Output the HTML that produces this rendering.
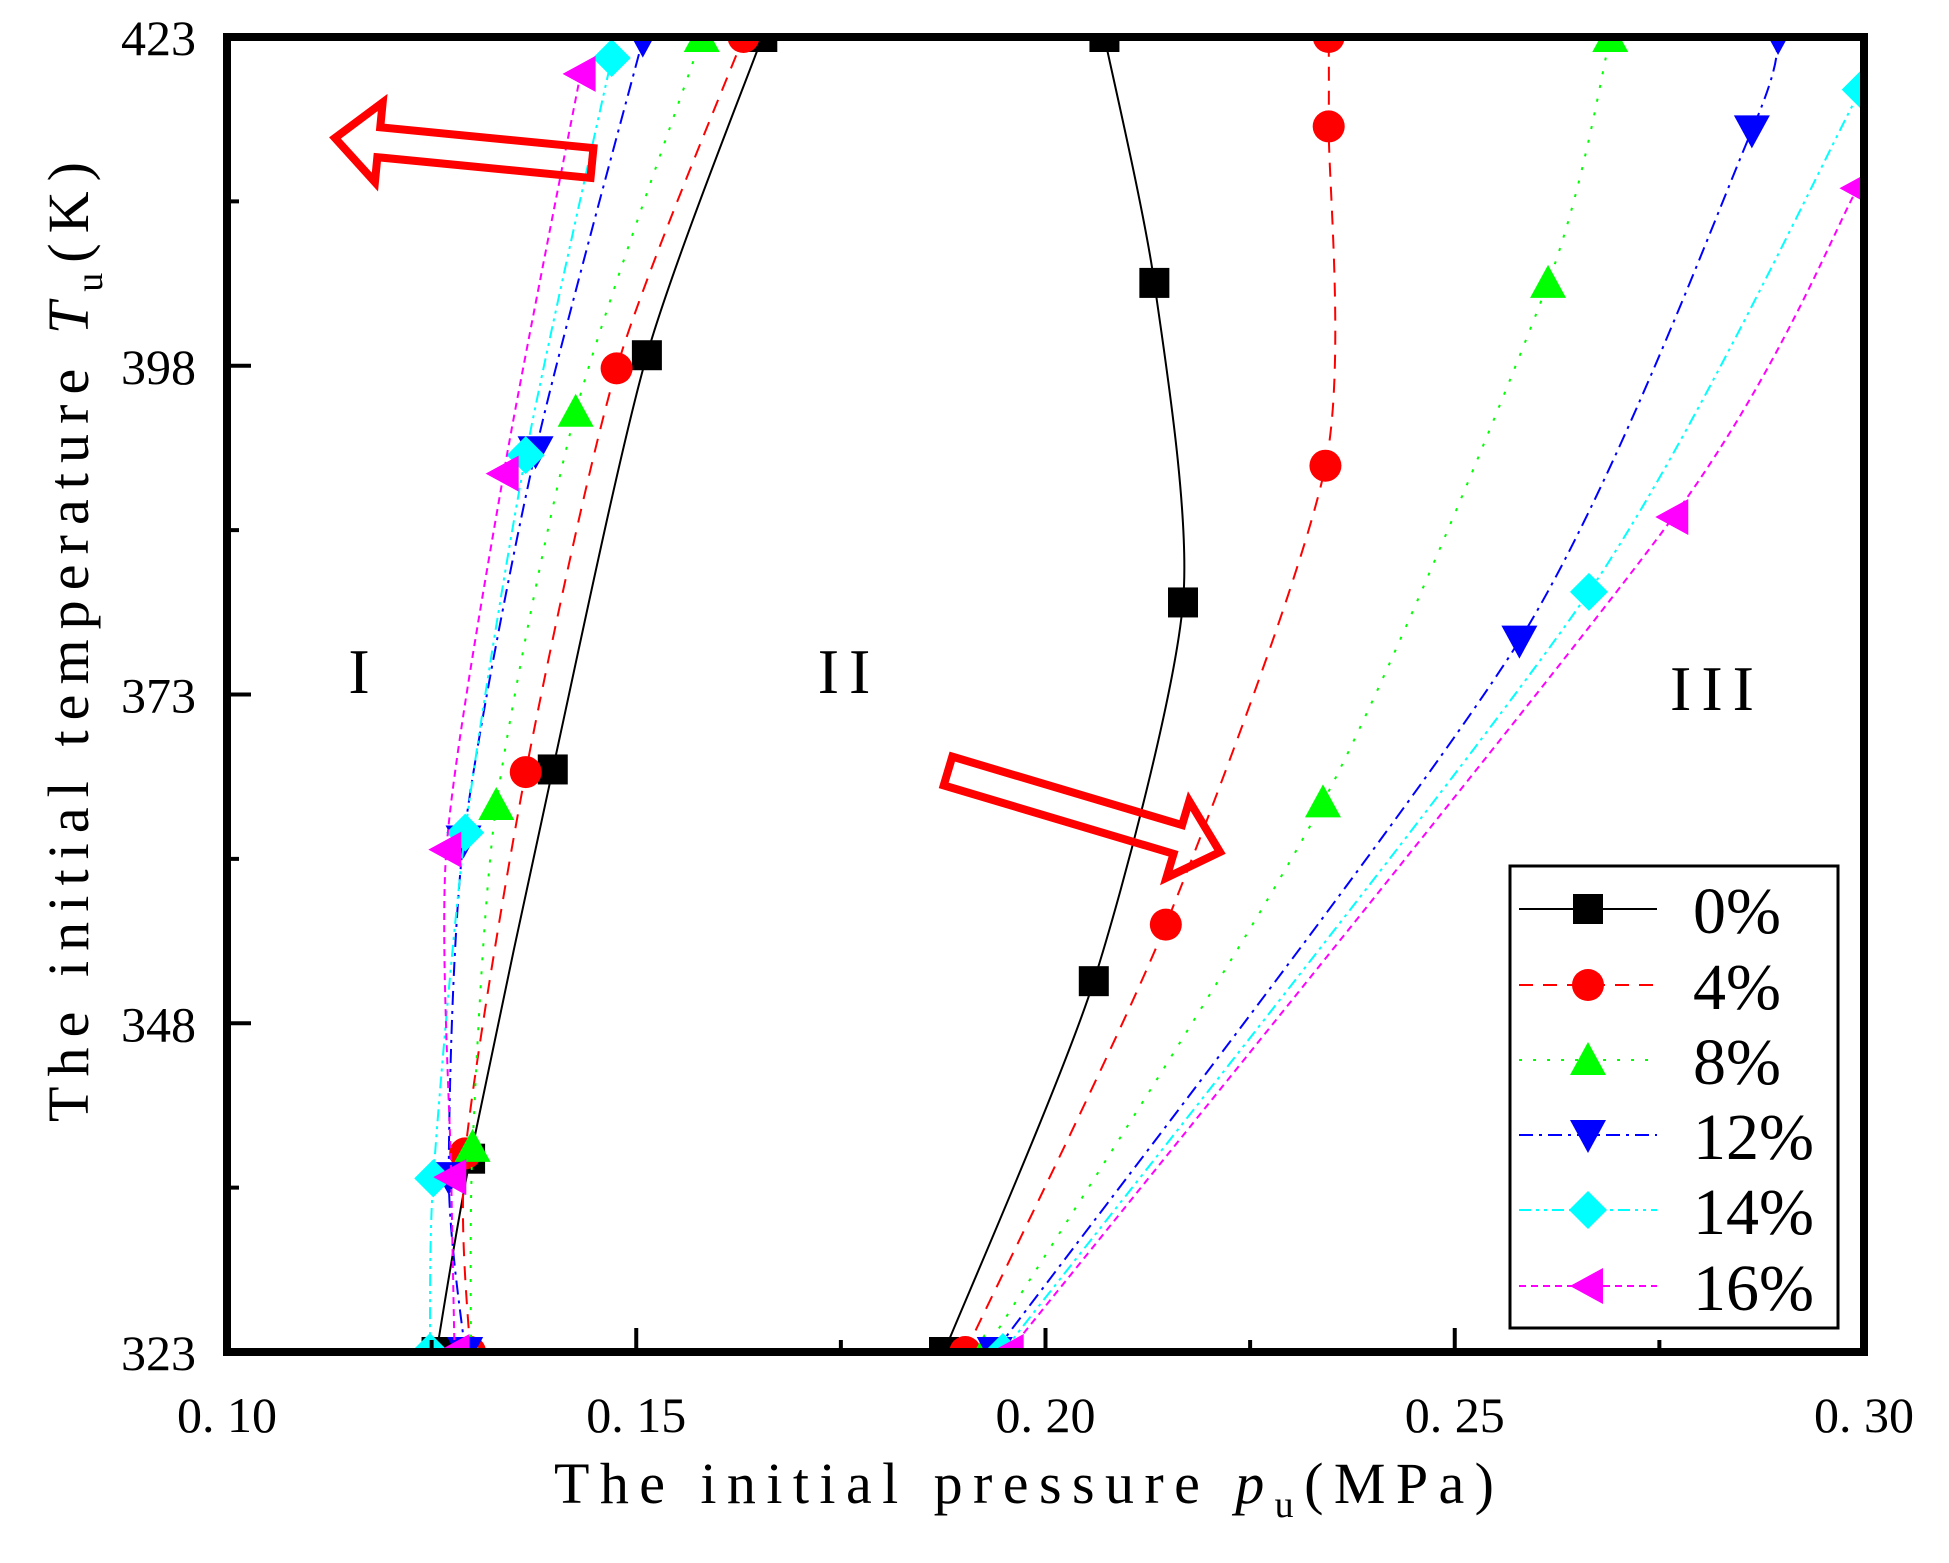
<!DOCTYPE html>
<html><head><meta charset="utf-8"><style>
html,body{margin:0;padding:0;background:#fff;}
svg{display:block;font-family:"Liberation Serif",serif;}
</style></head><body>
<svg id="chart" width="1949" height="1563" viewBox="0 0 1949 1563">
<g id="marks"></g>
<rect x="227" y="37" width="1637" height="1315" fill="none" stroke="#000" stroke-width="8"/>
<g id="axes"></g>
<text x="1024" y="1503" font-size="58" text-anchor="middle" textLength="940" lengthAdjust="spacing">The initial pressure <tspan font-style="italic">p</tspan><tspan font-size="38" dy="14">u</tspan><tspan dy="-14">(MPa)</tspan></text>
<text transform="translate(88,642) rotate(-90)" font-size="58" text-anchor="middle" textLength="960" lengthAdjust="spacing">The initial temperature <tspan font-style="italic">T</tspan><tspan font-size="38" dy="14">u</tspan><tspan dy="-14">(K)</tspan></text>
<text x="359" y="693" font-size="64" text-anchor="middle">I</text>
<text x="849" y="693" font-size="64" text-anchor="middle" letter-spacing="10">II</text>
<text x="1717" y="710" font-size="64" text-anchor="middle" letter-spacing="10">III</text>
<g id="arrows"></g>
<g id="legend">
<rect x="1510" y="866" width="328" height="462" fill="#fff" stroke="#000" stroke-width="3"/>
</g>
</svg>
<script>
const xTicks=[0.10,0.15,0.20,0.25,0.30];
const xTickLabels=["0. 10","0. 15","0. 20","0. 25","0. 30"];
const yTicks=[323,348,373,398,423];
const yTickLabels=["323","348","373","398","423"];
const seriesNames=["0%","4%","8%","12%","14%","16%"];
const leftP0=[0.1256,0.1297,0.1398,0.1513,0.1654];
const leftT0=[323,337.7,367.3,398.8,423];
const rightP0=[0.1876,0.2059,0.2168,0.2133,0.2072];
const rightT0=[323,351.2,380.0,404.3,423];
const leftP4=[0.1297,0.1291,0.1365,0.1476,0.1631];
const leftT4=[323,338.1,367.1,397.8,423];
const rightP4=[0.1902,0.2147,0.2342,0.2346,0.2346];
const rightT4=[323,355.5,390.4,416.2,423];
const leftP8=[0.1298,0.1300,0.1329,0.1426,0.1580];
const leftT8=[323,338.6,364.6,394.5,423];
const rightP8=[0.1925,0.2339,0.2614,0.2690];
const rightT8=[323,364.8,404.3,423];
const leftP12=[0.1291,0.1271,0.1289,0.1377,0.1508];
const leftT12=[323,336.3,361.9,391.5,422.8];
const rightP12=[0.1938,0.2579,0.2863,0.2895];
const rightT12=[323,377.1,415.9,423];
const leftP14=[0.1248,0.1252,0.1291,0.1365,0.1470];
const leftT14=[323,336.2,362.5,391.2,421.4];
const rightP14=[0.1948,0.2664,0.2996];
const rightT14=[323,380.8,419.0];
const leftP16=[0.1278,0.1274,0.1268,0.1338,0.1432];
const leftT16=[323,336.3,361.2,389.8,420.2];
const rightP16=[0.1955,0.2767,0.2992];
const rightT16=[323,386.5,411.5];

const NS="http://www.w3.org/2000/svg";
const X0=227,X1=1864,Y0=1352,Y1=37;
function sx(p){return X0+(p-0.10)/(0.30-0.10)*(X1-X0);}
function sy(t){return Y0-(t-323)/(423-323)*(Y0-Y1);}
function mk(tag,attrs,parent){const e=document.createElementNS(NS,tag);for(const k in attrs)e.setAttribute(k,attrs[k]);parent.appendChild(e);return e;}

const styles=[
 {color:"#000",dash:"",marker:"square"},
 {color:"#f00",dash:"14,10",marker:"circle"},
 {color:"#0f0",dash:"3,11",marker:"up"},
 {color:"#00f",dash:"14,6,3,6",marker:"down"},
 {color:"#0ff",dash:"12,5,3,5,3,5",marker:"diamond"},
 {color:"#f0f",dash:"7,5",marker:"left"}
];
const data=[[leftP0,leftT0,rightP0,rightT0],[leftP4,leftT4,rightP4,rightT4],[leftP8,leftT8,rightP8,rightT8],[leftP12,leftT12,rightP12,rightT12],[leftP14,leftT14,rightP14,rightT14],[leftP16,leftT16,rightP16,rightT16]];

function spline(pts){
 let d="M"+pts[0][0]+","+pts[0][1];
 const k=8;
 for(let i=0;i<pts.length-1;i++){
  const p0=pts[i-1]||pts[i],p1=pts[i],p2=pts[i+1],p3=pts[i+2]||pts[i+1];
  const c1=[p1[0]+(p2[0]-p0[0])/k,p1[1]+(p2[1]-p0[1])/k];
  const c2=[p2[0]-(p3[0]-p1[0])/k,p2[1]-(p3[1]-p1[1])/k];
  d+=" C"+c1[0]+","+c1[1]+" "+c2[0]+","+c2[1]+" "+p2[0]+","+p2[1];
 }
 return d;
}
function marker(type,x,y,color,parent){
 const r=15;let e;
 if(type==="square")e=mk("rect",{x:x-r,y:y-r,width:2*r,height:2*r,fill:color},parent);
 else if(type==="circle")e=mk("circle",{cx:x,cy:y,r:r+1,fill:color},parent);
 else if(type==="up")e=mk("polygon",{points:`${x},${y-r-3} ${x-r-3},${y+r} ${x+r+3},${y+r}`,fill:color},parent);
 else if(type==="down")e=mk("polygon",{points:`${x},${y+r+3} ${x-r-3},${y-r} ${x+r+3},${y-r}`,fill:color},parent);
 else if(type==="diamond")e=mk("polygon",{points:`${x},${y-r-4} ${x+r+4},${y} ${x},${y+r+4} ${x-r-4},${y}`,fill:color},parent);
 else e=mk("polygon",{points:`${x-r-3},${y} ${x+r},${y-r-3} ${x+r},${y+r+3}`,fill:color},parent);
 return e;
}
const marks=document.getElementById("marks");
mk("clipPath",{id:"clip"},marks);
mk("rect",{x:X0,y:Y1,width:X1-X0,height:Y0-Y1},document.getElementById("clip"));
data.forEach((s,i)=>{
 const st=styles[i];
 const g=mk("g",{"clip-path":"url(#clip)"},marks);
 
 
 for(let b=0;b<2;b++){
  const P=s[b*2],T=s[b*2+1];
  const pts=P.map((p,k)=>[sx(p),sy(T[k])]);
  const path=mk("path",{d:spline(pts),fill:"none",stroke:st.color,"stroke-width":2,"stroke-dasharray":st.dash},g);
  
  
  pts.forEach(pt=>{const m=marker(st.marker,pt[0],pt[1],st.color,g);
   
   });
 }
});
const axes=document.getElementById("axes");
xTicks.forEach((t,i)=>{
 const x=sx(t);
 mk("line",{x1:x,y1:Y0,x2:x,y2:Y0-24,stroke:"#000","stroke-width":4},axes);
 if(i<xTicks.length-1){const xm=sx(t+0.025);mk("line",{x1:xm,y1:Y0,x2:xm,y2:Y0-12,stroke:"#000","stroke-width":4},axes);}
 const tx=mk("text",{x:x,y:1432,"font-size":50,"text-anchor":"middle"},axes);
 tx.textContent=xTickLabels[i];
 
 
});
yTicks.forEach((t,i)=>{
 const y=sy(t);
 mk("line",{x1:X0,y1:y,x2:X0+24,y2:y,stroke:"#000","stroke-width":4},axes);
 if(i<yTicks.length-1){const ym=sy(t+12.5);mk("line",{x1:X0,y1:ym,x2:X0+12,y2:ym,stroke:"#000","stroke-width":4},axes);}
 const tx=mk("text",{x:196,y:y+18,"font-size":50,"text-anchor":"end"},axes);
 tx.textContent=yTickLabels[i];
 
 
});
const arrows=document.getElementById("arrows");
function hollowArrow(x0,y0,x1,y1,name){
 const L=Math.hypot(x1-x0,y1-y0),a=Math.atan2(y1-y0,x1-x0)*180/Math.PI;
 const bw=15,hw=40,hl=44;
 const g=mk("g",{transform:`translate(${x0},${y0}) rotate(${a})`},arrows);
 
 
 mk("polygon",{points:`0,${-bw} ${L-hl},${-bw} ${L-hl},${-hw} ${L},0 ${L-hl},${hw} ${L-hl},${bw} 0,${bw}`,fill:"none",stroke:"#f00","stroke-width":8},g);
}
hollowArrow(592,163,335,138,"arrow-left");
hollowArrow(948,771,1220,852,"arrow-right");
const legend=document.getElementById("legend");
const ly=[909,985,1060,1135,1210,1286];
styles.forEach((st,i)=>{
 const g=mk("g",{},legend);
 
 
 mk("line",{x1:1519,y1:ly[i],x2:1657,y2:ly[i],stroke:st.color,"stroke-width":2,"stroke-dasharray":st.dash},g);
 marker(st.marker,1588,ly[i],st.color,g);
 const t=mk("text",{x:1693,y:ly[i]+24,"font-size":66},g);
 t.textContent=seriesNames[i];
});
</script>
</body></html>
